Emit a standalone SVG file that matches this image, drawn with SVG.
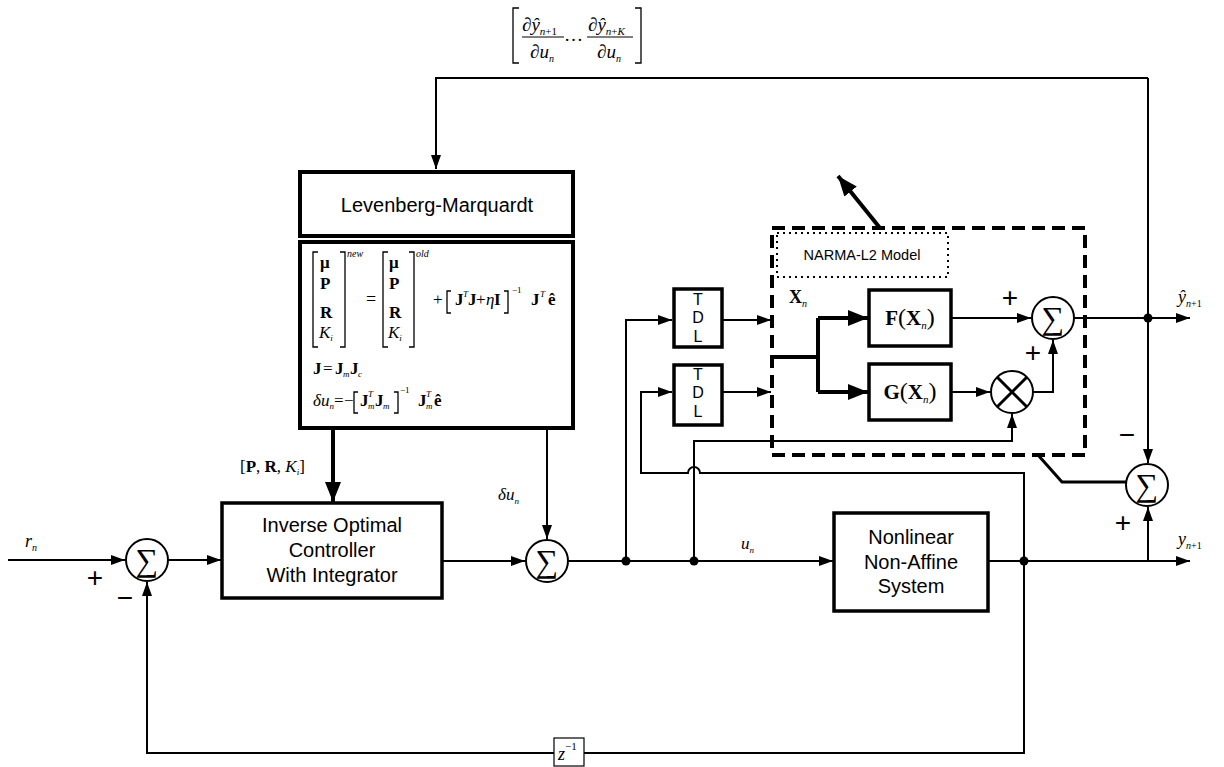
<svg xmlns="http://www.w3.org/2000/svg" width="1224" height="767" viewBox="0 0 1224 767">
<style>
.ln{fill:none;stroke:#000;stroke-width:2}
.tk{fill:none;stroke:#000;stroke-width:4}
.bx{fill:#fff;stroke:#000;stroke-width:3.5}
.ci{fill:#fff;stroke:#000;stroke-width:2}
.sans{font-family:"Liberation Sans",Arial,sans-serif;fill:#000}
.ser{font-family:"Liberation Serif","Times New Roman",serif;fill:#000}
.b{font-weight:bold}
.i{font-style:italic}
.br{fill:none;stroke:#000;stroke-width:1.3}
.sg{font-family:"Liberation Serif","Times New Roman",serif;font-size:32px;text-anchor:middle}
.pm{font-family:"Liberation Sans",Arial,sans-serif;font-size:28px;text-anchor:middle;font-weight:300}
</style>
<defs>
<marker id="ah" viewBox="0 0 14 10" refX="14" refY="5" markerWidth="14" markerHeight="10" orient="auto" markerUnits="userSpaceOnUse"><path d="M0,0 L14,5 L0,10 z" fill="#000"/></marker>
<marker id="ahb" viewBox="0 0 20 16" refX="20" refY="8" markerWidth="20" markerHeight="16" orient="auto" markerUnits="userSpaceOnUse"><path d="M0,0 L20,8 L0,16 z" fill="#000"/></marker>
</defs>
<rect width="1224" height="767" fill="#fff"/>

<g id="connectors">
<path class="ln" d="M1148,78 H436 V169" marker-end="url(#ah)"/>
<path class="ln" d="M1148,78 V463" marker-end="url(#ah)"/>
<path class="ln" d="M8,560 H125" marker-end="url(#ah)"/>
<path class="ln" d="M168,560 H221" marker-end="url(#ah)"/>
<path class="ln" d="M1024,561 V753 H147 V582" marker-end="url(#ah)"/>
<path class="ln" d="M442,561 H525" marker-end="url(#ah)"/>
<path class="ln" d="M547,428 V539" marker-end="url(#ah)"/>
<path class="tk" d="M333,428 V502" marker-end="url(#ahb)"/>
<path class="ln" d="M568,561 H833" marker-end="url(#ah)"/>
<path class="ln" d="M626,561 V320 H672" marker-end="url(#ah)"/>
<path class="ln" d="M722,320 H771" marker-end="url(#ah)"/>
<path class="ln" d="M1024,561 V473 H700 A6,6 0 0 0 688,473 H641 V392 H672" marker-end="url(#ah)"/>
<path class="ln" d="M723,392 H771" marker-end="url(#ah)"/>
<path class="ln" d="M694,561 V441 H1012 V414" marker-end="url(#ah)"/>
<path class="tk" d="M772,357 H818 M818,318 V392"/>
<path class="tk" d="M818,318 H868" marker-end="url(#ahb)"/>
<path class="tk" d="M818,392 H868" marker-end="url(#ahb)"/>
<path class="ln" d="M951,318 H1031" marker-end="url(#ah)"/>
<path class="ln" d="M951,392 H990" marker-end="url(#ah)"/>
<path class="ln" d="M1033,392 H1053 V340" marker-end="url(#ah)"/>
<path class="ln" d="M1074,318 H1190" marker-end="url(#ah)"/>
<path class="ln" d="M988,561 H1190" marker-end="url(#ah)"/>
<path class="ln" d="M1148,561 V507" marker-end="url(#ah)"/>
<path class="ln" d="M1038,455 L1062,482 H1126" style="stroke-width:3"/>
<path class="tk" d="M880,228 L838,176" marker-end="url(#ahb)"/>
<circle cx="626" cy="561" r="4.5"/>
<circle cx="694" cy="561" r="4.5"/>
<circle cx="1024" cy="561" r="4.5"/>
<circle cx="1148" cy="318" r="4.5"/>
</g>

<g id="top-formula">
<path class="br" d="M519,8 H513 V63 H519 M635,8 H641 V63 H635"/>
<text class="ser" font-size="19" x="522" y="31"><tspan>∂</tspan><tspan class="i">ŷ</tspan><tspan class="i" font-size="11" dy="4">n</tspan><tspan font-size="11">+1</tspan></text>
<line x1="522" y1="37" x2="564" y2="37" stroke="#000" stroke-width="1"/>
<text class="ser" font-size="19" x="530" y="58"><tspan>∂</tspan><tspan class="i">u</tspan><tspan class="i" font-size="10" dy="4">n</tspan></text>
<text class="ser" font-size="19" x="564" y="41">…</text>
<text class="ser" font-size="19" x="588" y="31"><tspan>∂</tspan><tspan class="i">ŷ</tspan><tspan class="i" font-size="11" dy="4">n</tspan><tspan font-size="11">+</tspan><tspan class="i" font-size="11">K</tspan></text>
<line x1="587" y1="37" x2="633" y2="37" stroke="#000" stroke-width="1"/>
<text class="ser" font-size="19" x="597" y="58"><tspan>∂</tspan><tspan class="i">u</tspan><tspan class="i" font-size="10" dy="4">n</tspan></text>
</g>

<g id="lm">
<rect class="bx" x="300" y="172" width="273" height="64" style="stroke-width:4"/>
<text class="sans" font-size="20" x="437" y="212" text-anchor="middle">Levenberg-Marquardt</text>
</g>

<g id="lm-formula">
<rect class="bx" x="300" y="242" width="273" height="186" style="stroke-width:4"/>
<path class="br" d="M318,252 H313 V347 H318 M340,252 H345 V347 H340"/>
<text class="ser b" font-size="17" x="320" y="268">μ</text>
<text class="ser b" font-size="17" x="320" y="289">P</text>
<text class="ser b" font-size="17" x="320" y="318">R</text>
<text class="ser i" font-size="17" x="319" y="338">K<tspan font-size="9" dy="3">i</tspan></text>
<text class="ser i" font-size="10" x="347" y="257">new</text>
<text class="ser" font-size="18" x="366" y="305">=</text>
<path class="br" d="M388,252 H383 V347 H388 M409,252 H414 V347 H409"/>
<text class="ser b" font-size="17" x="389" y="268">μ</text>
<text class="ser b" font-size="17" x="389" y="289">P</text>
<text class="ser b" font-size="17" x="389" y="318">R</text>
<text class="ser i" font-size="17" x="388" y="338">K<tspan font-size="9" dy="3">i</tspan></text>
<text class="ser i" font-size="10" x="416" y="257">old</text>
<text class="ser" font-size="17" x="433" y="305">+</text>
<path class="br" d="M451,291 H447 V313 H451 M504,291 H508 V313 H504"/>
<text class="ser b" font-size="17" x="455" y="305">J</text>
<text class="ser i" font-size="9" x="463" y="297">T</text>
<text class="ser b" font-size="17" x="468" y="305">J</text>
<text class="ser" font-size="17" x="476" y="305">+</text>
<text class="ser i" font-size="17" x="486" y="305">η</text>
<text class="ser b" font-size="17" x="494" y="305">I</text>
<text class="ser" font-size="9" x="512" y="293">−1</text>
<text class="ser b" font-size="17" x="531" y="305">J</text>
<text class="ser i" font-size="9" x="540" y="297">T</text>
<text class="ser b" font-size="17" x="548" y="305">ê</text>
<text class="ser b" font-size="17" x="313" y="374">J</text>
<text class="ser" font-size="17" x="323" y="374">=</text>
<text class="ser b" font-size="17" x="335" y="374">J</text>
<text class="ser i" font-size="9" x="343" y="377">m</text>
<text class="ser b" font-size="17" x="350" y="374">J</text>
<text class="ser i" font-size="9" x="358" y="377">c</text>
<text class="ser i" font-size="17" x="313" y="406">δu<tspan font-size="9" dy="3">n</tspan></text>
<text class="ser" font-size="17" x="334" y="406">=</text>
<text class="ser" font-size="17" x="344" y="406">−</text>
<path class="br" d="M358,392 H354 V413 H358 M394,392 H398 V413 H394"/>
<text class="ser b" font-size="17" x="360" y="406">J</text>
<text class="ser i" font-size="9" x="368" y="397">T</text>
<text class="ser i" font-size="9" x="368" y="409">m</text>
<text class="ser b" font-size="17" x="375" y="406">J</text>
<text class="ser i" font-size="9" x="383" y="409">m</text>
<text class="ser" font-size="9" x="400" y="393">−1</text>
<text class="ser b" font-size="17" x="418" y="406">J</text>
<text class="ser i" font-size="9" x="426" y="397">T</text>
<text class="ser i" font-size="9" x="426" y="409">m</text>
<text class="ser b" font-size="17" x="434" y="406">ê</text>
</g>

<g id="controller">
<rect class="bx" x="222" y="503" width="220" height="95"/>
<text class="sans" font-size="20" x="332" y="532" text-anchor="middle">Inverse Optimal</text>
<text class="sans" font-size="20" x="332" y="557" text-anchor="middle">Controller</text>
<text class="sans" font-size="20" x="332" y="582" text-anchor="middle">With Integrator</text>
</g>

<g id="sum-left">
<circle class="ci" cx="147" cy="560" r="21"/>
<text class="sg" x="147" y="571">∑</text>
</g>

<g id="sum-mid">
<circle class="ci" cx="547" cy="561" r="21"/>
<text class="sg" x="547" y="572">∑</text>
</g>

<g id="tdl1">
<rect class="bx" x="674" y="289" width="48" height="58"/>
<text class="sans" font-size="16" x="698" y="305" text-anchor="middle">T</text>
<text class="sans" font-size="16" x="698" y="323" text-anchor="middle">D</text>
<text class="sans" font-size="16" x="698" y="342" text-anchor="middle">L</text>
</g>

<g id="tdl2">
<rect class="bx" x="674" y="365" width="48" height="60"/>
<text class="sans" font-size="16" x="698" y="380" text-anchor="middle">T</text>
<text class="sans" font-size="16" x="698" y="398" text-anchor="middle">D</text>
<text class="sans" font-size="16" x="698" y="417" text-anchor="middle">L</text>
</g>

<g id="narma">
<rect x="772" y="228" width="313" height="227" fill="none" stroke="#000" stroke-width="4" stroke-dasharray="13 7"/>
<rect x="777" y="233" width="171" height="44" fill="none" stroke="#000" stroke-width="2" stroke-dasharray="2 4"/>
<text class="sans" font-size="14.5" x="862" y="260" text-anchor="middle">NARMA-L2 Model</text>
<text class="ser b" font-size="18" x="789" y="303">X<tspan class="i" font-size="10" dy="4" font-weight="normal">n</tspan></text>
</g>

<g id="f-block">
<rect class="bx" x="869" y="290" width="82" height="56"/>
<text class="ser" font-size="21" x="910" y="325" text-anchor="middle"><tspan class="b">F</tspan><tspan font-size="24">(</tspan><tspan class="b">X</tspan><tspan class="i" font-size="11" dy="4">n</tspan><tspan font-size="24" dy="-4">)</tspan></text>
</g>

<g id="g-block">
<rect class="bx" x="869" y="364" width="82" height="56"/>
<text class="ser" font-size="21" x="910" y="399" text-anchor="middle"><tspan class="b">G</tspan><tspan font-size="24">(</tspan><tspan class="b">X</tspan><tspan class="i" font-size="11" dy="4">n</tspan><tspan font-size="24" dy="-4">)</tspan></text>
</g>

<g id="sum-model">
<circle class="ci" cx="1053" cy="318" r="21"/>
<text class="sg" x="1053" y="329">∑</text>
</g>

<g id="mult">
<circle class="ci" cx="1012" cy="392" r="21"/>
<path d="M997,377 L1027,407 M1027,377 L997,407" stroke="#000" stroke-width="3"/>
</g>

<g id="nonlinear">
<rect class="bx" x="834" y="513" width="154" height="98"/>
<text class="sans" font-size="20" x="911" y="544" text-anchor="middle">Nonlinear</text>
<text class="sans" font-size="20" x="911" y="569" text-anchor="middle">Non-Affine</text>
<text class="sans" font-size="20" x="911" y="593" text-anchor="middle">System</text>
</g>

<g id="sum-err">
<circle class="ci" cx="1147" cy="485" r="21"/>
<text class="sg" x="1147" y="496">∑</text>
</g>

<g id="delay">
<rect x="554" y="738" width="30" height="28" fill="#fff" stroke="#000" stroke-width="1.2"/>
<text class="ser i" font-size="18" x="558" y="760">z<tspan font-style="normal" font-size="11" dy="-10">−1</tspan></text>
</g>

<g id="labels">
<text class="ser i" font-size="18" x="25" y="547">r<tspan font-size="10" dy="4">n</tspan></text>
<text class="pm" x="95" y="587">+</text>
<text class="pm" x="125" y="607">−</text>
<text class="ser" font-size="17" x="240" y="472"><tspan>[</tspan><tspan class="b">P</tspan><tspan>, </tspan><tspan class="b">R</tspan><tspan>, </tspan><tspan class="i">K</tspan><tspan class="i" font-size="9" dy="3">i</tspan><tspan dy="-3">]</tspan></text>
<text class="ser i" font-size="17" x="498" y="500">δu<tspan font-size="9" dy="4">n</tspan></text>
<text class="ser i" font-size="17" x="741" y="549">u<tspan font-size="9" dy="4">n</tspan></text>
<text class="pm" x="1010" y="307">+</text>
<text class="pm" x="1033" y="362">+</text>
<text class="pm" x="1127" y="444">−</text>
<text class="pm" x="1123" y="532">+</text>
<text class="ser i" font-size="18" x="1178" y="303">ŷ<tspan font-size="10" dy="4">n</tspan><tspan font-style="normal" font-size="10">+1</tspan></text>
<text class="ser i" font-size="18" x="1178" y="545">y<tspan font-size="10" dy="4">n</tspan><tspan font-style="normal" font-size="10">+1</tspan></text>
</g>
</svg>
